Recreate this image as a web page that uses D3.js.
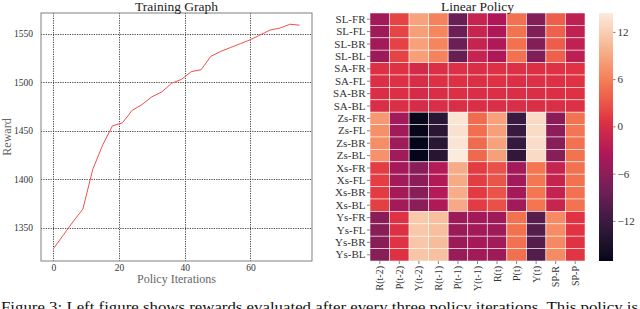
<!DOCTYPE html>
<html>
<head>
<meta charset="utf-8">
<script src="https://cdn.jsdelivr.net/npm/d3@7"></script>
<style>
  body { margin: 0; background: #fff; }
  svg { display: block; font-family: "Liberation Serif", serif; }
</style>
</head>
<body>
<div id="chart"></div>
<script>
// Training graph data (reward every three policy iterations)
var iterations = [0, 3, 6, 9, 12, 15, 18, 21, 24, 27, 30, 33, 36, 39, 42, 45, 48, 51, 54, 57, 60, 63, 66, 69, 72, 75];
var rewards = [1328, 1342, 1356, 1369, 1410, 1435, 1455, 1458, 1471, 1477, 1485, 1490, 1499, 1503, 1511, 1513, 1527, 1532, 1536, 1540, 1544, 1549, 1554, 1556, 1560, 1559];
var xTicks = [0, 20, 40, 60];
var yTicks = [1350, 1400, 1450, 1500, 1550];

// Linear policy heatmap
var rowLabels = ["SL-FR", "SL-FL", "SL-BR", "SL-BL", "SA-FR", "SA-FL", "SA-BR", "SA-BL",
  "Zs-FR", "Zs-FL", "Zs-BR", "Zs-BL", "Xs-FR", "Xs-FL", "Xs-BR", "Xs-BL",
  "Ys-FR", "Ys-FL", "Ys-BR", "Ys-BL"];
var colLabels = ["R(t-2)", "P(t-2)", "Y(t-2)", "R(t-1)", "P(t-1)", "Y(t-1)", "R(t)", "P(t)", "Y(t)", "SP-R", "SP-P"];
var policyWeights = [
  [-4.5, 1.8, 8.6, 6.2, -8.6, -1.6, -3.4, 5.0, -6.8, 3.6, -2.2],
  [-4.6, 1.9, 8.4, 6.5, -8.4, -1.4, -3.5, 5.2, -6.9, 3.8, -2.0],
  [-4.4, 1.7, 8.5, 6.4, -8.5, -1.5, -3.3, 5.1, -6.7, 3.5, -2.1],
  [-5.0, 1.8, 8.3, 6.3, -8.8, -1.6, -3.4, 5.0, -7.0, 3.7, -2.3],
  [0.5, 0.6, -0.4, 0.3, 0.4, 0.2, 0.5, 0.4, 0.3, 0.6, 0.8],
  [0.3, 0.4, 0.0, 0.5, 0.5, 0.3, 0.6, 0.3, 0.4, 0.5, 0.7],
  [0.2, 0.3, -0.2, 0.2, 0.3, 0.1, 0.3, 0.2, 0.2, 0.3, 0.6],
  [0.2, 0.2, -0.1, 0.1, 0.2, 0.2, 0.2, 0.1, 0.2, 0.2, 0.5],
  [7.8, -4.5, -16.8, -13.5, 13.8, 4.6, 8.5, -12.2, 13.0, -6.2, 5.2],
  [7.2, -4.4, -16.9, -13.6, 13.6, 4.8, 8.3, -12.4, 13.1, -6.0, 5.3],
  [7.0, -4.6, -17.1, -13.8, 13.9, 4.5, 8.6, -12.6, 13.2, -6.3, 5.1],
  [7.3, -4.5, -17.0, -13.9, 14.4, 4.4, 8.4, -13.0, 13.0, -6.4, 5.2],
  [1.4, -4.3, -6.2, -3.0, 9.3, 1.3, 2.7, -4.3, 5.4, -1.6, 5.0],
  [1.5, -4.4, -6.0, -3.2, 9.2, 1.4, 2.9, -4.4, 5.5, -1.5, 5.1],
  [1.3, -4.2, -6.3, -3.1, 9.4, 1.2, 2.8, -4.2, 5.3, -1.7, 5.0],
  [1.6, -4.4, -6.1, -3.3, 9.1, 1.3, 2.6, -4.5, 5.4, -1.4, 5.2],
  [-6.2, 0.6, 11.6, 10.8, -5.0, -4.3, -4.6, 5.0, -10.0, 6.8, 0.8],
  [-6.4, 0.5, 11.5, 10.7, -5.1, -4.4, -4.7, 5.1, -10.2, 6.9, 0.9],
  [-6.3, 0.7, 11.4, 10.6, -5.0, -4.2, -4.5, 5.0, -10.1, 6.7, 0.8],
  [-6.5, 0.6, 11.3, 10.9, -5.2, -4.5, -4.8, 4.9, -10.3, 6.8, 1.0]
];
var cbarTicks = [-12, -6, 0, 6, 12];

var svgWidth = 640;
var svgHeight = 309;

var svg = d3.select("#chart")
  .append("svg")
  .attr("width", svgWidth)
  .attr("height", svgHeight);

svg.append("rect").attr("width", svgWidth).attr("height", svgHeight).attr("fill", "#fff");

// ---------- left: training graph ----------
var lp = { left: 41, right: 312, top: 13, bottom: 261 };

var xScale = d3.scaleLinear()
  .domain([d3.min(iterations) - 3.75, d3.max(iterations) + 3.75])
  .range([lp.left, lp.right]);
var yScale = d3.scaleLinear()
  .domain([1315.4, 1571.6])
  .range([lp.bottom, lp.top]);

var grid = svg.append("g")
  .attr("stroke", "#444")
  .attr("stroke-width", 1)
  .attr("stroke-dasharray", "1.2,1.2");
grid.selectAll("line.vx").data(xTicks).enter().append("line")
  .attr("class", "vx")
  .attr("x1", d => Math.round(xScale(d)) + 0.5).attr("x2", d => Math.round(xScale(d)) + 0.5)
  .attr("y1", lp.top).attr("y2", lp.bottom);
grid.selectAll("line.hy").data(yTicks).enter().append("line")
  .attr("class", "hy")
  .attr("y1", d => Math.round(yScale(d)) + 0.5).attr("y2", d => Math.round(yScale(d)) + 0.5)
  .attr("x1", lp.left).attr("x2", lp.right);

svg.append("rect")
  .attr("x", lp.left).attr("y", lp.top)
  .attr("width", lp.right - lp.left).attr("height", lp.bottom - lp.top)
  .attr("fill", "none").attr("stroke", "#8a8a8a").attr("stroke-width", 1.1);

var line = d3.line()
  .x((d, i) => xScale(iterations[i]))
  .y(d => yScale(d));

svg.append("path")
  .datum(rewards)
  .attr("d", line)
  .attr("fill", "none")
  .attr("stroke", "#f4504a")
  .attr("stroke-width", 1);

var xAxis = svg.append("g")
  .attr("transform", "translate(0," + lp.bottom + ")")
  .call(d3.axisBottom(xScale).tickValues(xTicks).tickSize(0).tickPadding(3).tickFormat(d3.format("d")));
var yAxis = svg.append("g")
  .attr("transform", "translate(" + lp.left + ",0)")
  .call(d3.axisLeft(yScale).tickValues(yTicks).tickSize(0).tickPadding(8).tickFormat(d3.format("d")));
[xAxis, yAxis].forEach(function(ax) {
  ax.select(".domain").remove();
  ax.selectAll("text")
    .attr("font-family", "Liberation Serif")
    .attr("font-size", 9.5)
    .attr("fill", "#333");
});

svg.append("text")
  .attr("x", (lp.left + lp.right) / 2).attr("y", 10.5)
  .attr("text-anchor", "middle")
  .attr("font-size", 13.5)
  .attr("fill", "#222")
  .text("Training Graph");

svg.append("text")
  .attr("x", (lp.left + lp.right) / 2).attr("y", 283)
  .attr("text-anchor", "middle")
  .attr("font-size", 12)
  .attr("fill", "#666")
  .text("Policy Iterations");

svg.append("text")
  .attr("transform", "translate(11," + (lp.top + lp.bottom) / 2 + ")rotate(-90)")
  .attr("text-anchor", "middle")
  .attr("font-size", 12)
  .attr("fill", "#666")
  .text("Reward");

// ---------- right: heatmap ----------
var hm = { left: 370, right: 585, top: 13, bottom: 261 };

var xBand = d3.scaleBand().domain(colLabels).range([hm.left, hm.right]);
var yBand = d3.scaleBand().domain(rowLabels).range([hm.top, hm.bottom]);

var vmin = -17.1;
var vmax = 14.4;
// seaborn "rocket" approximated by stops
var rocketStops = [0, 1 / 7, 2 / 7, 3 / 7, 4 / 7, 5 / 7, 6 / 7, 1];
var rocketColors = ["#03051a", "#35193e", "#701f57", "#ad1759", "#e13342", "#f37651", "#f6b48f", "#faebdd"];
var rocket = d3.scaleLinear().domain(rocketStops).range(rocketColors).interpolate(d3.interpolateLab);
var color = function(v) { return rocket((v - vmin) / (vmax - vmin)); };

var cells = [];
policyWeights.forEach(function(row, i) {
  row.forEach(function(v, j) {
    cells.push({ r: rowLabels[i], c: colLabels[j], v: v });
  });
});

svg.append("g").selectAll("rect")
  .data(cells)
  .enter()
  .append("rect")
  .attr("x", d => xBand(d.c))
  .attr("y", d => yBand(d.r))
  .attr("width", xBand.bandwidth())
  .attr("height", yBand.bandwidth())
  .attr("fill", d => color(d.v))
  .attr("stroke", "#fff")
  .attr("stroke-opacity", 0.75)
  .attr("stroke-width", 0.7);

var hx = svg.append("g")
  .attr("transform", "translate(0," + hm.bottom + ")")
  .call(d3.axisBottom(xBand).tickSize(3).tickPadding(2));
hx.select(".domain").remove();
hx.selectAll("line").attr("stroke", "#333").attr("stroke-width", 0.6);
hx.selectAll("text")
  .attr("font-family", "Liberation Serif")
  .attr("font-size", 10)
  .attr("fill", "#333")
  .attr("text-anchor", "end")
  .attr("dy", "0.35em")
  .attr("transform", "translate(0,5)rotate(-90)")
  .attr("y", 0)
  .attr("x", 0);

var hy = svg.append("g")
  .attr("transform", "translate(" + hm.left + ",0)")
  .call(d3.axisLeft(yBand).tickSize(3).tickPadding(1.5));
hy.select(".domain").remove();
hy.selectAll("line").attr("stroke", "#333").attr("stroke-width", 0.6);
hy.selectAll("text")
  .attr("font-family", "Liberation Serif")
  .attr("font-size", 11)
  .attr("fill", "#333");

svg.append("text")
  .attr("x", (hm.left + hm.right) / 2).attr("y", 10.5)
  .attr("text-anchor", "middle")
  .attr("font-size", 13.5)
  .attr("fill", "#222")
  .text("Linear Policy");

// colorbar
var cb = { left: 599, right: 613, top: 13, bottom: 261 };
var cScale = d3.scaleLinear().domain([vmin, vmax]).range([cb.bottom, cb.top]);

var grad = svg.append("defs").append("linearGradient")
  .attr("id", "rocketGrad")
  .attr("x1", 0).attr("y1", 1).attr("x2", 0).attr("y2", 0);
grad.selectAll("stop")
  .data(d3.range(0, 1.0001, 0.02))
  .enter()
  .append("stop")
  .attr("offset", d => d)
  .attr("stop-color", d => rocket(d));

svg.append("rect")
  .attr("x", cb.left).attr("y", cb.top)
  .attr("width", cb.right - cb.left).attr("height", cb.bottom - cb.top)
  .attr("fill", "url(#rocketGrad)");

var cAxis = svg.append("g")
  .attr("transform", "translate(" + cb.right + ",0)")
  .call(d3.axisRight(cScale).tickValues(cbarTicks).tickSize(2.5).tickPadding(2)
    .tickFormat(d => d < 0 ? "\u2212" + Math.abs(d) : d));
cAxis.select(".domain").remove();
cAxis.selectAll("line").attr("stroke", "#333").attr("stroke-width", 0.6);
cAxis.selectAll("text")
  .attr("font-family", "Liberation Serif")
  .attr("font-size", 11)
  .attr("fill", "#333");

// caption line, cut off by the bottom edge as in the source figure
svg.append("text")
  .attr("x", 1).attr("y", 312)
  .attr("font-size", 14.5)
  .attr("fill", "#111")
  .attr("textLength", 637)
  .attr("lengthAdjust", "spacingAndGlyphs")
  .text("Figure 3: Left figure shows rewards evaluated after every three policy iterations. This policy is");
</script>
</body>
</html>
